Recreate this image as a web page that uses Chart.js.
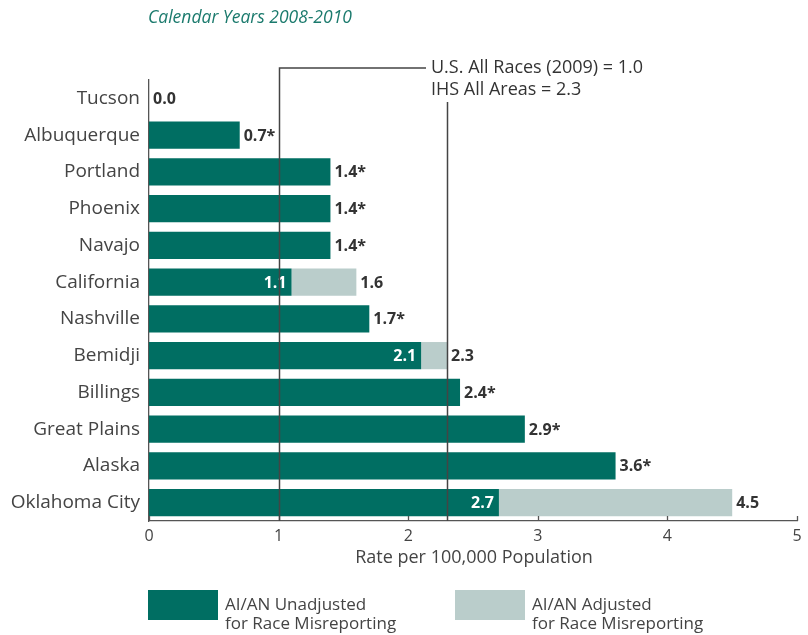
<!DOCTYPE html>
<html>
<head>
<meta charset="utf-8">
<script src="https://cdn.jsdelivr.net/npm/chart.js@4"></script>
<style>
  body { margin: 0; background: #fff; }
  #wrap { width: 808px; height: 635px; position: relative; }
</style>
</head>
<body>
<div id="wrap"><canvas id="myChart" width="808" height="635"></canvas></div>
<script>
// Data
const areas = ["Tucson", "Albuquerque", "Portland", "Phoenix", "Navajo", "California",
               "Nashville", "Bemidji", "Billings", "Great Plains", "Alaska", "Oklahoma City"];
const unadjusted = [0.0, 0.7, 1.4, 1.4, 1.4, 1.1, 1.7, 2.1, 2.4, 2.9, 3.6, 2.7];
const adjusted = [null, null, null, null, null, 1.6, null, 2.3, null, null, null, 4.5];
const starred = [false, true, true, true, true, false, true, false, true, true, true, false];
const xTicks = [0, 1, 2, 3, 4, 5];
const usAllRaces = 1.0;
const ihsAllAreas = 2.3;

const DARK = '#006e62';
const LIGHT = '#bacdcb';
const TEXT = '#444';
const FONT = '"Open Sans", sans-serif';

// extra part of the bar from adjustment
const extra = adjusted.map((v, i) => v === null ? null : +(v - unadjusted[i]).toFixed(2));

const overlay = {
    id: 'overlay',
    afterDatasetsDraw(chart) {
        const ctx = chart.ctx;
        const x = chart.scales.x, y = chart.scales.y;
        const area = chart.chartArea;
        ctx.save();

        // value labels
        ctx.textBaseline = 'middle';
        ctx.font = 'bold 16px ' + FONT;
        areas.forEach((a, i) => {
            const yc = y.getPixelForValue(i);
            if (adjusted[i] !== null) {
                ctx.fillStyle = '#fff';
                ctx.textAlign = 'right';
                ctx.fillText(unadjusted[i].toFixed(1), x.getPixelForValue(unadjusted[i]) - 5, yc + 1);
                ctx.fillStyle = '#333';
                ctx.textAlign = 'left';
                ctx.fillText(adjusted[i].toFixed(1), x.getPixelForValue(adjusted[i]) + 4, yc + 1);
            } else {
                ctx.fillStyle = '#333';
                ctx.textAlign = 'left';
                ctx.fillText(unadjusted[i].toFixed(1) + (starred[i] ? '*' : ''),
                             x.getPixelForValue(unadjusted[i]) + 4, yc + 1);
            }
        });

        // small inward ticks on x axis
        ctx.strokeStyle = '#555';
        ctx.lineWidth = 1.3;
        xTicks.forEach(t => {
            const px = Math.round(x.getPixelForValue(t)) + 0.5;
            ctx.beginPath();
            ctx.moveTo(px, area.bottom);
            ctx.lineTo(px, area.bottom - 5);
            ctx.stroke();
        });

        // reference lines
        ctx.strokeStyle = '#444';
        ctx.lineWidth = 1.5;
        const x1 = Math.round(x.getPixelForValue(usAllRaces)) + 0.5;
        const x2 = Math.round(x.getPixelForValue(ihsAllAreas)) + 0.5;
        ctx.beginPath();
        ctx.moveTo(x1, area.bottom);
        ctx.lineTo(x1, 68);
        ctx.lineTo(426, 68);
        ctx.moveTo(x2, area.bottom);
        ctx.lineTo(x2, 102);
        ctx.stroke();

        ctx.fillStyle = '#333';
        ctx.font = '18px ' + FONT;
        ctx.textAlign = 'left';
        ctx.fillText('U.S. All Races (2009) = 1.0', 431, 68);
        ctx.fillText('IHS All Areas = 2.3', 431, 90);

        // x axis title
        ctx.fillStyle = TEXT;
        ctx.font = '18px ' + FONT;
        ctx.textAlign = 'center';
        ctx.fillText('Rate per 100,000 Population', (area.left + area.right) / 2 + 1, 558);

        // title
        ctx.fillStyle = '#1b7a6d';
        ctx.font = 'italic 17.5px ' + FONT;
        ctx.textAlign = 'left';
        ctx.fillText('Calendar Years 2008-2010', 148, 18);

        // legend
        ctx.fillStyle = DARK;
        ctx.fillRect(148, 590, 70, 30);
        ctx.fillStyle = LIGHT;
        ctx.fillRect(455, 590, 70, 30);
        ctx.fillStyle = TEXT;
        ctx.font = '17px ' + FONT;
        ctx.fillText('AI/AN Unadjusted', 225, 605);
        ctx.fillText('for Race Misreporting', 225, 624);
        ctx.fillText('AI/AN Adjusted', 532, 605);
        ctx.fillText('for Race Misreporting', 532, 624);
        ctx.restore();
    }
};

const ctx = document.getElementById('myChart').getContext('2d');
new Chart(ctx, {
    type: 'bar',
    data: {
        labels: areas,
        datasets: [{
            label: 'AI/AN Unadjusted for Race Misreporting',
            data: unadjusted,
            backgroundColor: DARK,
            categoryPercentage: 0.74,
            barPercentage: 1.0
        }, {
            label: 'AI/AN Adjusted for Race Misreporting',
            data: extra,
            backgroundColor: LIGHT,
            categoryPercentage: 0.74,
            barPercentage: 1.0
        }]
    },
    options: {
        indexAxis: 'y',
        responsive: false,
        animation: false,
        layout: { padding: { top: 80, right: 11, bottom: 64, left: 0 } },
        plugins: {
            legend: { display: false },
            tooltip: { enabled: false }
        },
        scales: {
            x: {
                stacked: true,
                min: 0,
                max: 5,
                afterBuildTicks: s => { s.ticks = xTicks.map(v => ({ value: v })); },
                afterFit: s => { s.height = 50; },
                grid: { display: false, drawTicks: false },
                border: { display: true, color: '#555', width: 1.3 },
                ticks: { color: TEXT, font: { family: FONT, size: 16 }, padding: 6 }
            },
            y: {
                stacked: true,
                afterFit: s => { s.width = 149; },
                grid: { display: false, drawTicks: false },
                border: { display: true, color: '#555', width: 1.3 },
                ticks: { color: TEXT, font: { family: FONT, size: 19 }, padding: 9 }
            }
        }
    },
    plugins: [overlay]
});
</script>
</body>
</html>
